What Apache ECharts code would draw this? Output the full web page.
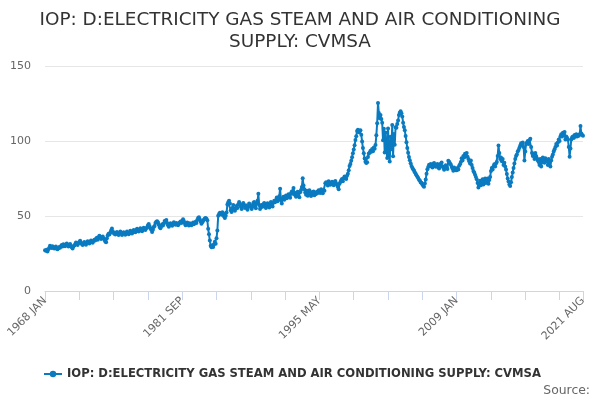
<!DOCTYPE html>
<html>
<head>
<meta charset="utf-8">
<script src="https://cdn.jsdelivr.net/npm/echarts@6/dist/echarts.min.js"></script>
<style>html,body{margin:0;padding:0;background:#fff}#c{width:600px;height:400px}</style>
</head>
<body>
<div id="c"></div>
<script>
var monthNames = ['JAN','FEB','MAR','APR','MAY','JUN','JUL','AUG','SEP','OCT','NOV','DEC'];
var startYear = 1968;
var yTicks = [0, 50, 100, 150];
var seriesName = 'IOP: D:ELECTRICITY GAS STEAM AND AIR CONDITIONING SUPPLY: CVMSA';
var values = [
// 1968
27.2,26.8,27.5,26.4,27.9,28.6,30.1,29.4,28.7,29.8,29.1,28.3,
// 1969
28.9,29.6,28.2,27.8,28.5,29.3,28.8,29.9,30.6,29.7,31.2,30.4,
// 1970
29.8,30.9,31.6,30.5,29.7,30.8,31.4,30.2,29.1,28.4,29.6,30.3,
// 1971
31.2,32.4,31.8,30.7,31.9,32.6,33.5,32.1,31.4,30.6,31.8,32.7,
// 1972
31.5,30.8,32.2,33.1,32.4,31.7,32.9,33.6,32.8,32.1,33.4,34.2,
// 1973
33.6,34.8,35.5,34.1,35.9,36.8,35.7,34.6,35.8,36.4,35.2,34.1,
// 1974
33.0,32.5,35.1,37.2,38.1,37.6,38.9,40.4,41.6,39.8,38.7,38.2,
// 1975
37.6,38.8,39.4,38.2,37.4,38.6,39.7,38.5,37.3,38.4,39.2,38.1,
// 1976
37.5,38.9,39.6,38.7,37.8,38.5,40.2,39.4,38.3,39.1,40.6,39.8,
// 1977
39.2,40.7,41.5,40.3,39.6,40.8,41.9,40.6,39.8,41.2,42.1,41.4,
// 1978
40.6,41.8,42.3,43.8,44.6,43.2,41.7,40.9,39.4,40.8,42.6,43.4,
// 1979
45.3,46.2,46.5,45.8,44.2,42.6,41.9,43.1,44.5,43.6,44.8,46.7,
// 1980
46.1,47.3,45.4,43.8,42.9,44.1,45.2,44.3,43.5,44.6,45.8,44.9,
// 1981
44.2,45.3,44.6,43.8,44.9,45.7,46.3,45.4,46.8,47.9,46.5,45.2,
// 1982
43.9,44.8,45.6,44.3,43.7,45.1,44.6,43.8,44.9,45.7,44.5,45.3,
// 1983
46.2,45.4,47.3,48.6,49.2,47.8,46.4,44.9,45.8,46.9,47.6,48.3,
// 1984
48.7,48.1,47.2,41.5,37.8,33.6,30.2,29.1,30.5,29.4,31.2,32.8,
// 1985
31.5,35.2,40.3,50.1,51.4,52.2,51.6,50.8,52.5,51.9,49.7,48.6,
// 1986
50.2,52.4,57.6,59.1,60.2,58.4,53.8,52.6,55.1,57.3,54.2,53.5,
// 1987
54.8,56.6,55.3,57.9,59.4,58.1,56.3,54.7,57.2,58.6,56.9,55.4,
// 1988
57.1,55.8,54.2,56.7,58.3,57.5,55.9,54.6,56.2,58.7,59.3,57.8,
// 1989
55.2,58.4,60.1,64.8,57.3,54.6,55.8,57.4,56.2,57.9,58.6,56.8,
// 1990
55.4,57.2,58.5,56.9,55.6,57.8,59.3,58.1,56.4,58.9,60.2,59.1,
// 1991
60.6,62.3,59.8,61.4,63.2,68.1,60.5,58.3,61.7,62.9,60.8,62.4,
// 1992
63.7,61.9,62.8,64.5,63.3,62.1,65.2,66.4,64.8,68.6,65.7,63.9,
// 1993
62.8,64.6,66.1,63.4,62.5,65.8,67.3,69.4,75.2,70.3,67.8,65.6,
// 1994
64.2,66.8,63.5,65.7,67.2,64.1,63.3,65.9,64.6,66.3,63.8,65.1,
// 1995
64.7,66.2,65.4,67.1,66.5,65.3,67.8,66.6,65.2,67.4,66.9,71.8,
// 1996
72.5,71.6,70.4,73.1,72.2,70.8,71.7,72.9,71.3,70.5,72.6,73.4,
// 1997
71.8,70.6,69.4,67.8,71.5,72.7,73.9,74.6,73.2,75.1,76.3,75.4,
// 1998
74.6,76.8,78.2,80.5,83.4,84.6,86.8,89.2,91.9,94.4,97.1,100.6,
// 1999
103.2,106.7,107.5,105.8,106.4,107.2,104.1,99.6,95.3,91.8,88.4,86.2,
// 2000
85.4,85.8,89.3,91.7,92.2,93.5,92.8,94.6,93.1,95.7,94.9,97.3,
// 2001
103.8,111.9,125.3,118.7,115.2,117.4,114.6,112.2,100.5,108.1,92.4,105.6,
// 2002
96.3,88.7,108.4,91.2,86.3,102.8,94.5,110.6,89.8,104.7,97.5,109.2,
// 2003
108.8,111.4,113.6,117.3,118.9,119.8,118.5,116.4,112.2,109.3,107.1,103.4,
// 2004
99.2,95.4,92.1,89.3,87.2,85.1,83.4,82.2,81.1,80.3,79.2,78.1,
// 2005
77.2,76.1,75.3,74.2,73.6,72.4,72.1,71.0,70.2,69.5,71.6,74.3,
// 2006
78.2,81.1,82.6,84.1,83.2,84.6,83.1,82.4,84.6,85.3,83.7,82.8,
// 2007
83.9,84.7,82.5,81.6,83.4,84.8,85.6,83.2,82.1,80.9,82.7,83.8,
// 2008
82.3,81.4,86.9,86.2,85.1,84.3,82.8,81.6,80.2,82.4,81.3,80.5,
// 2009
80.5,82.0,81.0,83.5,84.5,86.0,88.5,87.0,90.0,89.0,91.5,90.5,
// 2010
92.0,89.5,88.0,86.5,85.0,87.0,84.0,82.0,80.0,79.0,77.5,76.0,
// 2011
74.5,72.0,69.0,71.5,73.5,70.5,72.5,74.5,71.0,73.0,75.0,72.0,
// 2012
73.5,75.0,71.5,74.0,76.0,80.0,82.0,81.0,83.0,84.5,83.0,85.0,
// 2013
86.0,90.0,97.0,92.0,88.0,89.0,86.5,88.0,84.0,85.5,83.0,81.0,
// 2014
78.0,75.0,73.0,71.0,70.0,72.5,76.0,79.0,82.0,85.0,88.0,90.0,
// 2015
91.0,93.0,94.0,95.5,97.0,98.5,97.0,99.0,96.0,87.0,93.0,98.0,
// 2016
99.0,100.0,98.0,100.5,101.5,96.0,92.0,90.0,91.5,88.0,92.0,90.0,
// 2017
88.5,87.0,86.0,84.0,88.0,83.0,86.0,89.0,87.0,85.5,88.5,87.5,
// 2018
86.5,84.0,88.0,86.0,83.0,87.0,89.5,91.0,93.0,94.5,96.0,98.0,
// 2019
97.0,99.0,101.0,100.0,103.0,104.5,103.0,105.5,104.0,106.0,101.0,103.0,
// 2020
102.0,101.0,96.0,89.5,95.0,101.0,102.5,103.0,102.0,104.0,103.0,104.5,
// 2021
103.0,104.0,103.5,104.5,110.0,105.0,104.0,103.5
];
var categories = values.map(function(v, i){
  return (startYear + Math.floor(i / 12)) + ' ' + monthNames[i % 12];
});
var lastIdx = categories.length - 1;
var chart = echarts.init(document.getElementById('c'), null, {renderer:'canvas'});
chart.setOption({
  animation: false,
  title: {
    text: 'IOP: D:ELECTRICITY GAS STEAM AND AIR CONDITIONING\nSUPPLY: CVMSA',
    left: 'center', top: 4,
    textStyle: {fontFamily: 'DejaVu Sans', fontSize: 18.4, fontWeight: 'normal', color: '#333333', lineHeight: 22}
  },
  legend: {
    bottom: 15, left: 38,
    itemWidth: 18, itemHeight: 8, itemGap: 6,
    textStyle: {fontFamily: 'DejaVu Sans', fontSize: 11.6, fontWeight: 'bold', color: '#333333'},
    data: [{name: seriesName}]
  },
  graphic: [{
    type: 'text', right: 10, bottom: 3,
    style: {text: 'Source:', fontFamily: 'DejaVu Sans', fontSize: 12.4, fill: '#666666'}
  }],
  grid: {left: 45, right: 17, top: 66, bottom: 109, containLabel: false},
  xAxis: {
    type: 'category', data: categories, boundaryGap: false,
    axisLine: {lineStyle: {color: '#ccd6eb'}},
    axisTick: {length: 9, lineStyle: {color: '#ccd6eb'}, interval: function(i){ return i % 41 === 0 || i === lastIdx; }},
    axisLabel: {rotate: 45, color: '#666666', fontFamily: 'DejaVu Sans', fontSize: 11, margin: 8,
      interval: function(i){ return i % 164 === 0 || i === lastIdx; }},
    splitLine: {show: false}
  },
  yAxis: {
    type: 'value', min: yTicks[0], max: yTicks[yTicks.length-1], interval: 50,
    axisLine: {show: false}, axisTick: {show: false},
    axisLabel: {color: '#666666', fontFamily: 'DejaVu Sans', fontSize: 11, margin: 14},
    splitLine: {lineStyle: {color: '#e6e6e6'}}
  },
  series: [{
    name: seriesName, type: 'line', data: values,
    color: '#0a7bc1',
    lineStyle: {width: 2, color: '#0a7bc1'},
    showSymbol: true, showAllSymbol: true, symbol: 'circle', symbolSize: 4,
    itemStyle: {color: '#0a7bc1'}
  }]
});
</script>
</body>
</html>
